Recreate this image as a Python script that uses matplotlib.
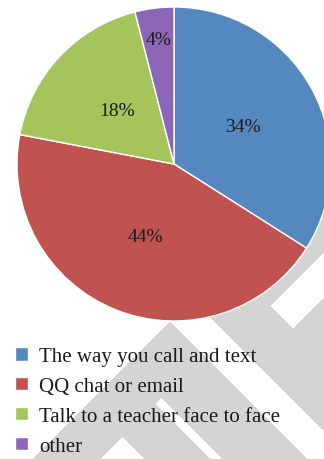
import numpy as np
import matplotlib
matplotlib.use('Agg')
import matplotlib.pyplot as plt

# ── data ──
categories = ['The way you call and text', 'QQ chat or email',
              'Talk to a teacher face to face', 'other']
shares = [34, 44, 18, 4]
colors = ['#5688C0', '#C0534F', '#A5C45C', '#8C67B6']
label_radius = [0.5, 0.5, 0.5, 0.8]

W, H = 324, 460
plt.rcParams['font.family'] = ['Liberation Serif', 'DejaVu Serif']

fig = plt.figure(figsize=(W / 100, H / 100), dpi=100)

# ── grey watermark chevrons behind the chart (pixel space) ──
bg = fig.add_axes([0, 0, 1, 1], zorder=0)
yy, xx = np.mgrid[0:H, 0:W] + 0.5
s = xx + yy
d = xx - yy
mask = ((s >= 493) & (s <= 560) & (d <= -153)) \
    | ((d >= -237) & (d <= -153) & (s >= 493)) \
    | ((d >= -315) & (d <= -250) & (s >= 560)) \
    | ((d >= -108) & (d <= -37) & (s >= 480)) \
    | ((s >= 623) & (s <= 690) & (d >= -37)) \
    | ((s >= 510) & (s <= 577) & (d >= -37))
img = np.where(mask[..., None], 212, 255).astype(np.uint8).repeat(3, axis=2)
bg.imshow(img, extent=(0, W, H, 0), interpolation='nearest', aspect='auto')
bg.axis('off')

# ── pie ──
cx, cy, r = 174, 165, 157
ax = fig.add_axes([(cx - r) / W, (H - cy - r) / H, 2 * r / W, 2 * r / H], zorder=1)
ax.patch.set_alpha(0)
wedges, _ = ax.pie(shares, colors=colors, startangle=90, counterclock=False,
                   radius=1, wedgeprops=dict(edgecolor='white', linewidth=1.0))
for w, val, rr in zip(wedges, shares, label_radius):
    mid = np.deg2rad((w.theta1 + w.theta2) / 2)
    ax.text(rr * np.cos(mid), rr * np.sin(mid), f'{val}%', ha='center', va='center',
            fontsize=14, color='#1a1a1a')
ax.set_xlim(-1, 1)
ax.set_ylim(-1, 1)
ax.set_aspect('equal')
ax.axis('off')

# ── legend ──
leg = fig.legend(wedges, categories, loc='upper left',
                 bbox_to_anchor=(15 / W, 1 - 348 / H), frameon=False,
                 fontsize=15, handlelength=0.62, handleheight=0.62,
                 handletextpad=0.55, labelspacing=0.52, borderpad=0,
                 borderaxespad=0)
for t in leg.get_texts():
    t.set_color('#1a1a1a')

fig.savefig('out.png', dpi=100)
